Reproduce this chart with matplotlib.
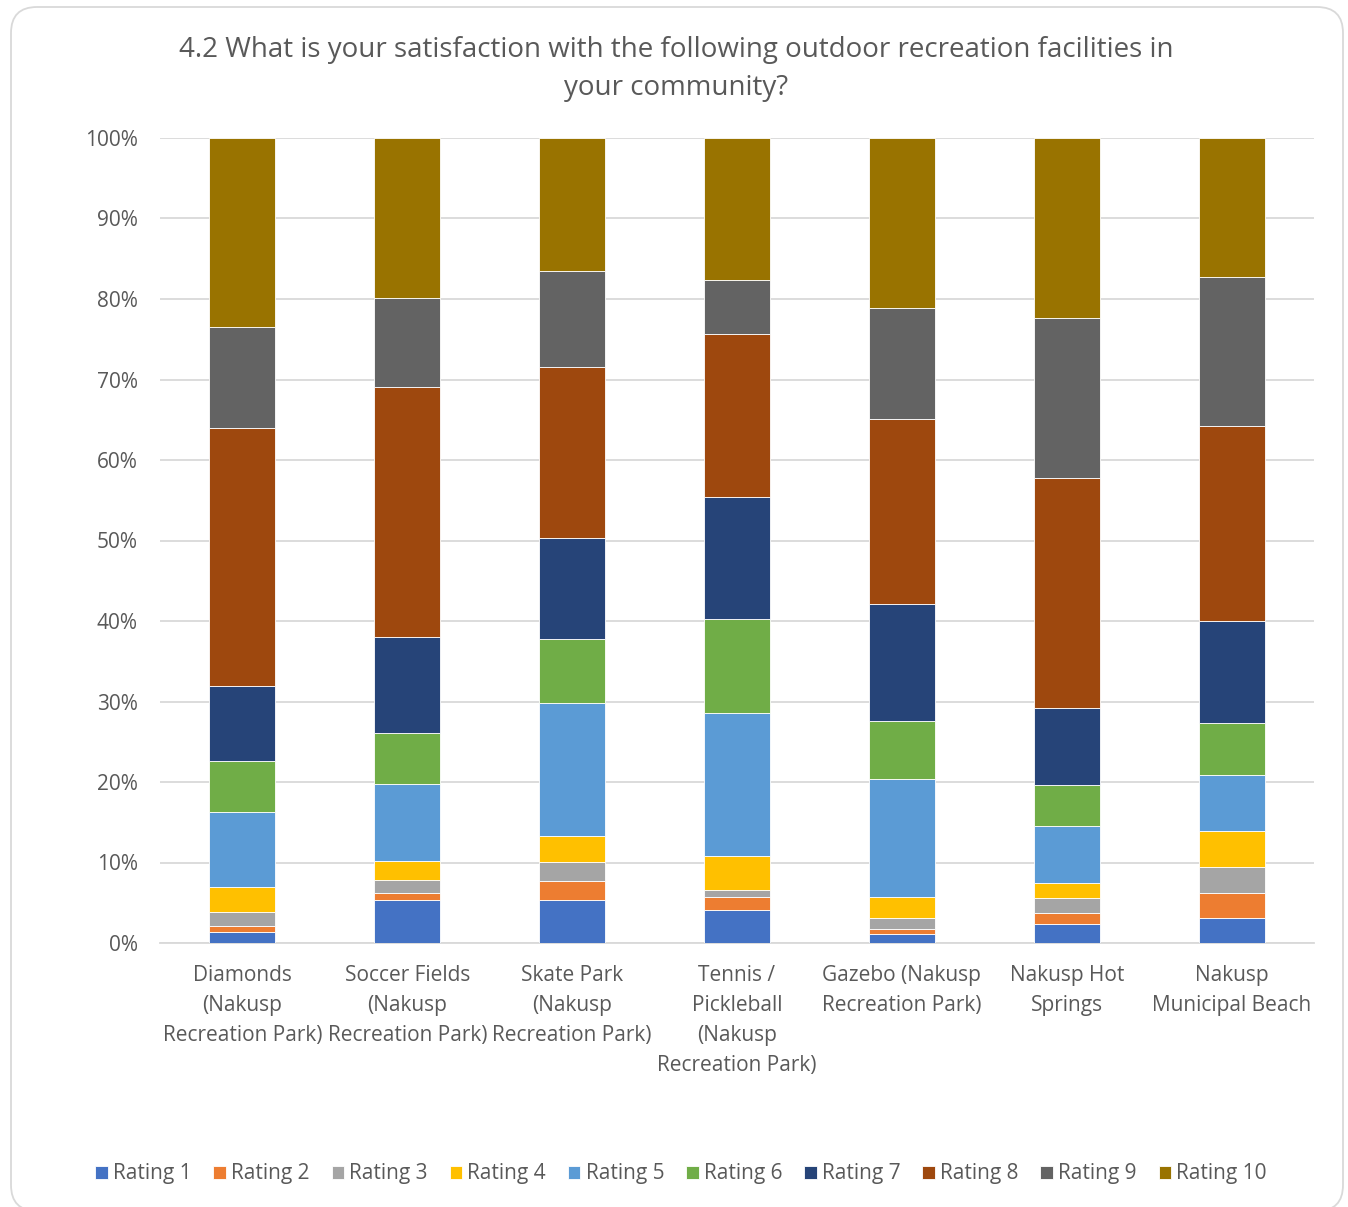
import matplotlib
matplotlib.use("Agg")
import matplotlib.pyplot as plt
import numpy as np
from matplotlib.patches import FancyBboxPatch
from matplotlib.transforms import IdentityTransform
from matplotlib.ticker import PercentFormatter

plt.rcParams['font.family'] = ['Open Sans', 'DejaVu Sans']

categories = [
    "Diamonds\n(Nakusp\nRecreation Park)",
    "Soccer Fields\n(Nakusp\nRecreation Park)",
    "Skate Park\n(Nakusp\nRecreation Park)",
    "Tennis /\nPickleball\n(Nakusp\nRecreation Park)",
    "Gazebo (Nakusp\nRecreation Park)",
    "Nakusp Hot\nSprings",
    "Nakusp\nMunicipal Beach",
]
series_names = ["Rating 1", "Rating 2", "Rating 3", "Rating 4", "Rating 5",
                "Rating 6", "Rating 7", "Rating 8", "Rating 9", "Rating 10"]

# percentage values per rating, per facility (in category order)
rating_1 = [1.4, 5.4, 5.4, 4.05, 1.15, 2.4, 3.05]
rating_2 = [0.75, 0.8, 2.3, 1.7, 0.6, 1.3, 3.2]
rating_3 = [1.65, 1.6, 2.4, 0.85, 1.35, 1.9, 3.15]
rating_4 = [3.1, 2.4, 3.15, 4.2, 2.65, 1.9, 4.5]
rating_5 = [9.4, 9.55, 16.55, 17.8, 14.6, 7.0, 7.0]
rating_6 = [6.3, 6.35, 8.0, 11.6, 7.2, 5.1, 6.4]
rating_7 = [9.3, 11.9, 12.5, 15.2, 14.5, 9.6, 12.7]
rating_8 = [32.1, 31.1, 21.3, 20.25, 23.0, 28.6, 24.2]
rating_9 = [12.5, 11.0, 11.9, 6.75, 13.8, 19.8, 18.5]
rating_10 = [23.5, 19.9, 16.5, 17.6, 21.1, 22.4, 17.3]

series = [rating_1, rating_2, rating_3, rating_4, rating_5,
          rating_6, rating_7, rating_8, rating_9, rating_10]
colors = ["#4472C4", "#ED7D31", "#A5A5A5", "#FFC000", "#5B9BD5",
          "#70AD47", "#264478", "#9E480E", "#636363", "#997300"]

W, H = 1348, 1207
fig = plt.figure(figsize=(W / 100, H / 100), dpi=100)
fig.patch.set_facecolor("white")

# rounded border (pixel coordinates)
border = FancyBboxPatch((11, -4), 1332, 1204,
                        boxstyle="round,pad=0,rounding_size=26",
                        transform=IdentityTransform(), fill=False,
                        edgecolor="#d9d9d9", linewidth=1.3, clip_on=False)
fig.patches.append(border)

ax = fig.add_axes([160 / W, (H - 943) / H, 1154 / W, 805 / H])
x = np.arange(len(categories))
data = np.array(series, dtype=float)
totals = data.sum(axis=0)
frac = data / totals * 100
bottom = np.zeros(len(categories))
for vals, name, c in zip(frac, series_names, colors):
    ax.bar(x, vals, width=0.4, bottom=bottom, color=c, label=name,
           edgecolor="white", linewidth=0.6, zorder=3)
    bottom += vals

ax.set_xlim(-0.5, len(categories) - 0.5)
ax.set_ylim(0, 100)
ax.set_yticks(np.arange(0, 101, 10))
ax.yaxis.set_major_formatter(PercentFormatter(decimals=0))
ax.grid(axis="y", color="#d9d9d9", linewidth=1.3, zorder=0)
ax.set_axisbelow(True)
for s in ["left", "right", "top"]:
    ax.spines[s].set_visible(False)
ax.spines["bottom"].set_color("#d9d9d9")
ax.spines["bottom"].set_linewidth(1.3)
ax.set_xticks(x)
ax.set_xticklabels(categories, fontsize=15, color="#595959", linespacing=1.55)
ax.tick_params(axis="x", length=0, pad=16)
ax.tick_params(axis="y", length=0, pad=16, labelsize=15, labelcolor="#595959")

fig.text(676 / W, 1 - 69 / H,
         "4.2 What is your satisfaction with the following outdoor recreation facilities in\nyour community?",
         ha="center", va="center", fontsize=20, color="#595959", linespacing=1.5)

leg = fig.legend(loc="center", bbox_to_anchor=(681 / W, 1 - 1174 / H), ncol=10,
                 frameon=False, fontsize=15, handlelength=0.6, handleheight=0.6,
                 handletextpad=0.25, columnspacing=1.05)
for t in leg.get_texts():
    t.set_color("#595959")

fig.savefig("out.png", dpi=100, facecolor="white")
